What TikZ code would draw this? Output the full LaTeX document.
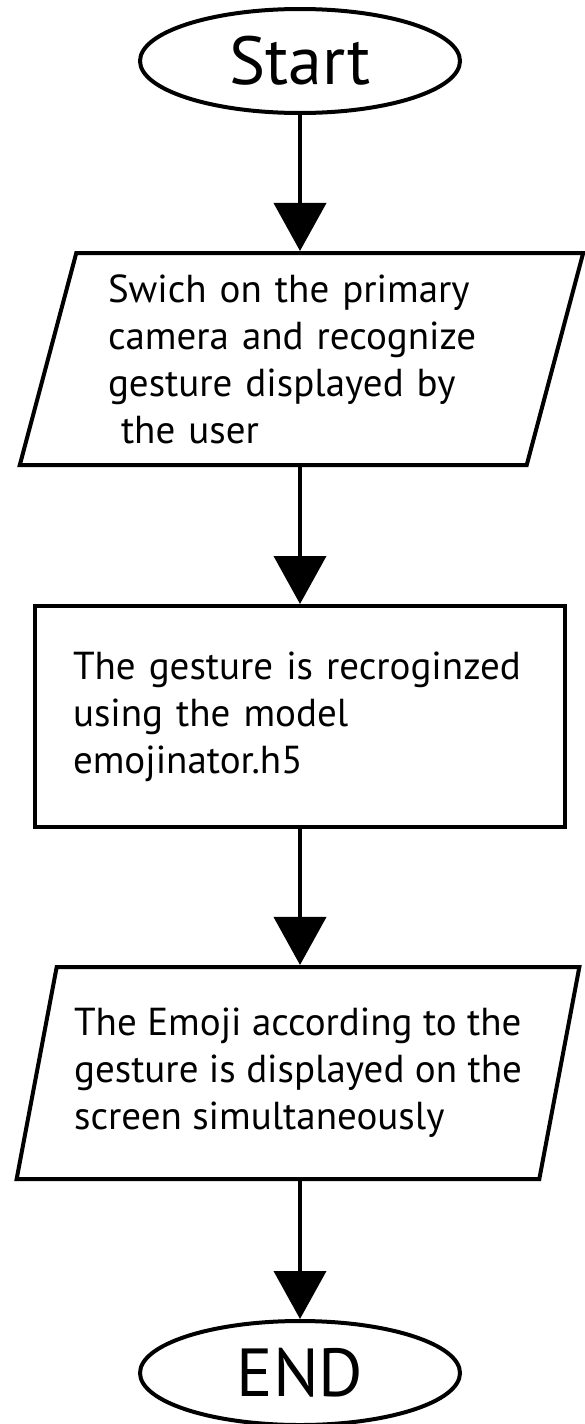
\documentclass[tikz,border=0pt]{standalone}
\usepackage{fontspec}
\setmainfont{PT Sans}
\usetikzlibrary{arrows.meta,shapes.geometric}

\begin{document}
\begin{tikzpicture}[x=1pt, y=-1pt, line width=4pt, every node/.style={font=\fontsize{39}{47}\selectfont}, term/.style={draw,ellipse,minimum width=320pt,minimum height=104pt,inner sep=0pt,font=\fontsize{68}{72}\selectfont}, io/.style={draw,trapezium,trapezium left angle=74,trapezium right angle=106,trapezium stretches=true,minimum width=565pt,minimum height=212pt,inner sep=0pt,align=left}, process/.style={draw,rectangle,minimum width=530pt,minimum height=221pt,inner sep=0pt,align=left}, >={Triangle[length=48pt,width=52pt]}]
\useasboundingbox (0,0) rectangle (584,1424);
\node[term] (start) at (300,61) {Start};
\node[io, text width=387pt] (camera) at (301.5,359) {Swich on the primary\\camera and recognize\\gesture displayed by\\~the user};
\node[process, text width=454pt] (model) at (300,716.5) {The gesture is recroginzed\\using the model\\emojinator.h5};
\node[io] (emoji) at (298,1073) {The Emoji according to the\\gesture is displayed on the\\screen simultaneously};
\node[term] (stop) at (300,1373) {END};
\draw[->] (start) -- (start |- camera.north);
\draw[->] (start |- camera.south) -- (model);
\draw[->] (model) -- (model.south |- emoji.north);
\draw[->] (model.south |- emoji.south) -- (stop);
\end{tikzpicture}
\end{document}
